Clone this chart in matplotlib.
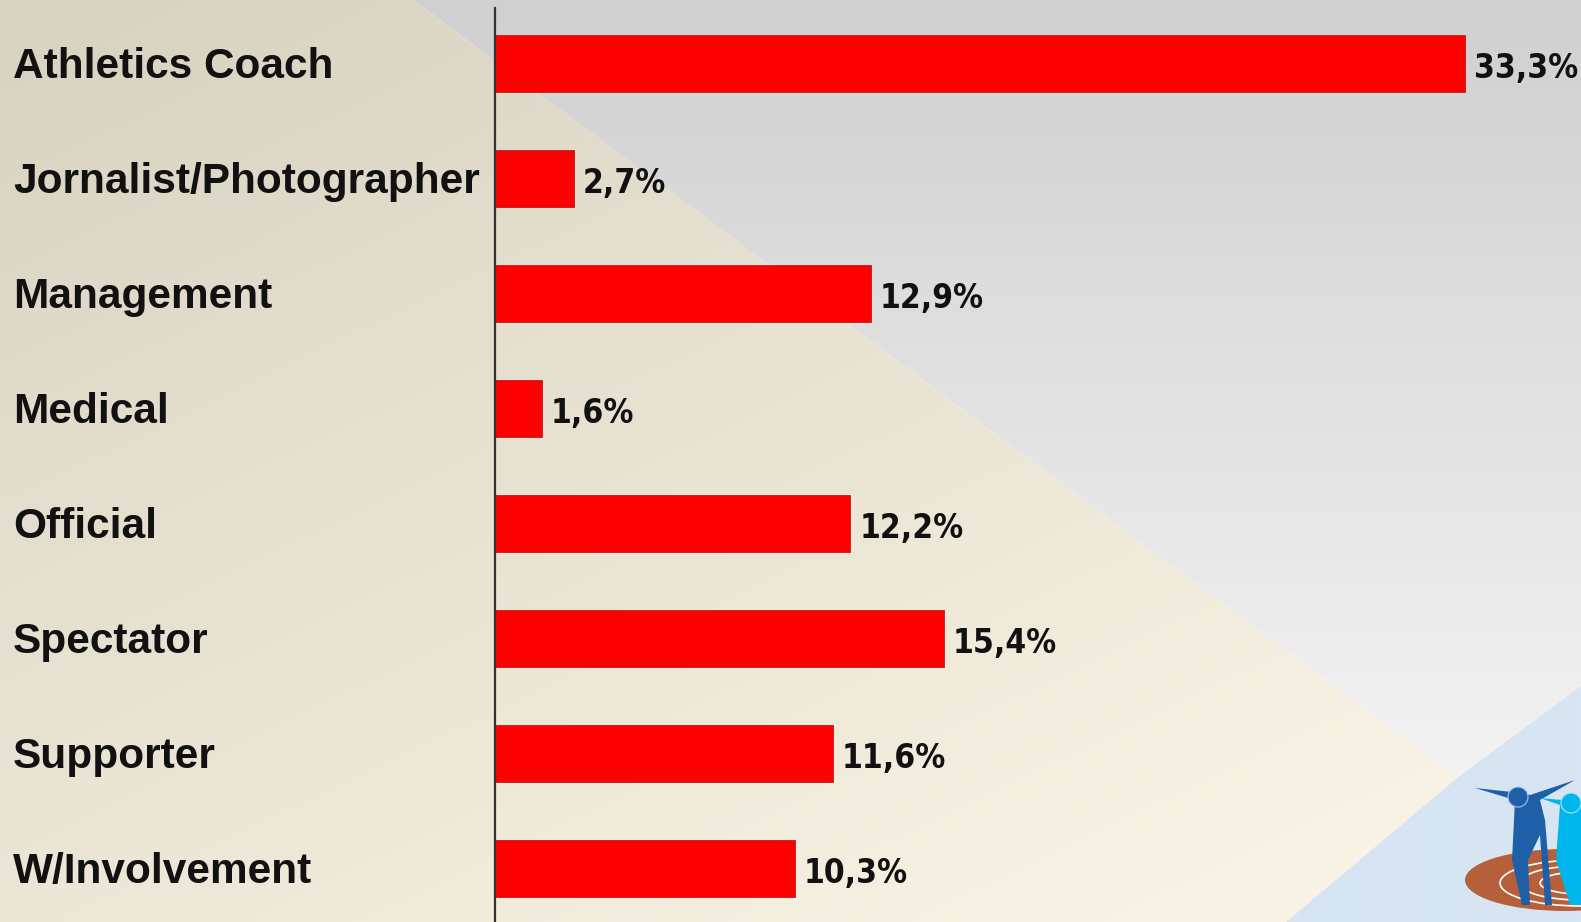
import numpy as np
import matplotlib
matplotlib.use('Agg')
import matplotlib.pyplot as plt
from matplotlib.patches import Polygon, Ellipse, Circle
from matplotlib.colors import LinearSegmentedColormap
import matplotlib.transforms as mtransforms

# data
categories = ['Athletics Coach', 'Jornalist/Photographer', 'Management', 'Medical',
              'Official', 'Spectator', 'Supporter', 'W/Involvement']
values = [33.3, 2.7, 12.9, 1.6, 12.2, 15.4, 11.6, 10.3]
value_labels = ['33,3%', '2,7%', '12,9%', '1,6%', '12,2%', '15,4%', '11,6%', '10,3%']

W, H = 1581, 922
fig = plt.figure(figsize=(W / 100, H / 100), dpi=100)

# background (pixel coords)
bg = fig.add_axes([0, 0, 1, 1])
bg.set_xlim(0, W)
bg.set_ylim(H, 0)
bg.axis('off')

def grad_fill(poly_pts, c1, c2, direction):
    yy, xx = np.mgrid[0:H:4, 0:W:4]
    if direction == 'v':
        t = yy / H
    elif direction == 'h':
        t = xx / W
    else:
        t = (xx / W * 0.45 + yy / H * 0.55)
    cmap = LinearSegmentedColormap.from_list('g', [c1, c2])
    poly = Polygon(poly_pts, closed=True, facecolor='none', edgecolor='none')
    bg.add_patch(poly)
    im = bg.imshow(t, cmap=cmap, extent=(0, W, H, 0), aspect='auto', vmin=0, vmax=1)
    im.set_clip_path(poly)

grad_fill([(413, 0), (W, 0), (W, 686), (1457, 778)], '#d0d0d0', '#f9f9f9', 'v')
grad_fill([(0, 0), (413, 0), (1457, 778), (1286, H), (0, H)], '#d8d2c1', '#fdf7e9', 'd')
grad_fill([(1457, 778), (W, 686), (W, H), (1286, H)], '#c9dcf0', '#d8e6f4', 'h')

# rough logo in the corner
bg.add_patch(Ellipse((1565, 880), 200, 62, facecolor='#b5603a', edgecolor='none'))
for w, h in [(160, 46), (120, 34), (80, 22)]:
    bg.add_patch(Ellipse((1580, 883), w, h, facecolor='none', edgecolor='white', lw=1.2))
bg.add_patch(Polygon([(1475, 788), (1515, 800), (1512, 860), (1522, 905), (1530, 905),
                      (1528, 860), (1540, 835), (1545, 905), (1552, 905), (1545, 820),
                      (1540, 800), (1575, 780), (1530, 795), (1512, 792)],
                     closed=True, facecolor='#1f5fa8', edgecolor='none'))
bg.add_patch(Circle((1518, 797), 10, facecolor='#1f5fa8', edgecolor='#a8c4e8', lw=0.8))
bg.add_patch(Polygon([(1540, 798), (1560, 805), (1556, 860), (1570, 905), (W, 905),
                      (W, 800), (1562, 800)],
                     closed=True, facecolor='#00b5ec', edgecolor='none'))
bg.add_patch(Circle((1571, 803), 10, facecolor='#00b5ec', edgecolor='#a8e4f8', lw=0.8))

# chart axes
ax = fig.add_axes([495 / W, 0, (W - 495) / W, 1 - 8 / H])
ax.patch.set_alpha(0)
y = np.arange(len(categories))
bars = ax.barh(y, values, height=0.496, color='#ff0000', edgecolor='#b02020', linewidth=0.6)
ax.set_xlim(0, 37.28)
ax.set_ylim(7.465, -0.483)
for s in ['top', 'right', 'bottom']:
    ax.spines[s].set_visible(False)
ax.spines['left'].set_color('#333333')
ax.spines['left'].set_linewidth(1.6)
ax.set_xticks([])
ax.set_yticks([])

trans = mtransforms.blended_transform_factory(fig.transFigure, ax.transData)
for yi, cat in zip(y, categories):
    ax.text(13 / W, yi + 0.03, cat, transform=trans, ha='left', va='center',
            fontsize=30.5, fontweight='bold', family='Liberation Sans', color='#111111')

for yi, v, lab in zip(y, values, value_labels):
    ax.text(v + 0.3, yi + 0.04, lab, ha='left', va='center', fontsize=24,
            fontweight='bold', fontstretch='condensed', family='DejaVu Sans',
            color='#111111')

fig.savefig('out.png', dpi=100)
